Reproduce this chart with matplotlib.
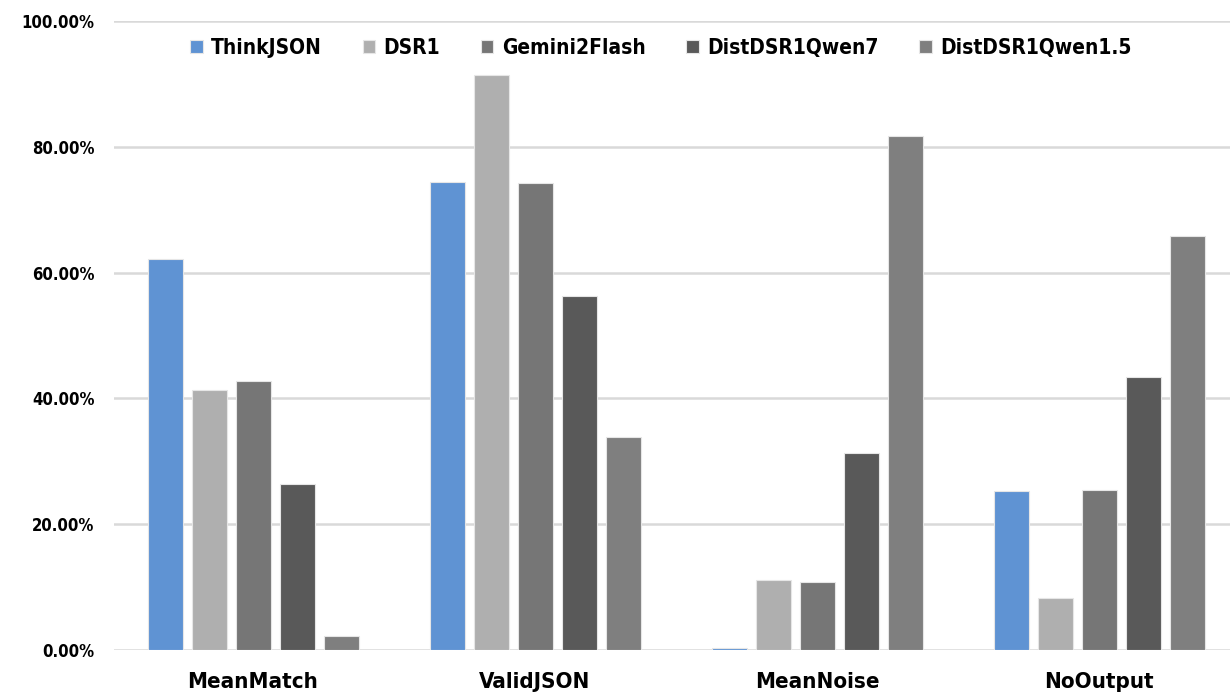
import numpy as np
from matplotlib import pyplot as plt
from matplotlib.ticker import PercentFormatter

plt.rcParams["font.family"] = ["DejaVu Sans"]
plt.rcParams["font.stretch"] = "condensed"
plt.rcParams["font.weight"] = "bold"

categories = ["MeanMatch", "ValidJSON", "MeanNoise", "NoOutput"]
models = ["ThinkJSON", "DSR1", "Gemini2Flash", "DistDSR1Qwen7", "DistDSR1Qwen1.5"]

think_json = [62.2, 74.4, 0.3, 25.3]
dsr1 = [41.3, 91.4, 11.1, 8.3]
gemini2_flash = [42.8, 74.2, 10.8, 25.4]
dist_qwen7 = [26.4, 56.3, 31.3, 43.4]
dist_qwen15 = [2.2, 33.9, 81.7, 65.8]

series = [think_json, dsr1, gemini2_flash, dist_qwen7, dist_qwen15]
colors = ["#5F93D3", "#AFAFAF", "#767676", "#595959", "#7F7F7F"]

fig = plt.figure(figsize=(12.3, 6.94), dpi=100)
ax = fig.add_axes([0.0927, 0.0634, 0.9073, 0.9063])

x = np.arange(len(categories))
pitch = 0.156
bar_width = 0.124

for i, (vals, name, col) in enumerate(zip(series, models, colors)):
    offset = (i - 2) * pitch
    ax.bar(x + offset, np.array(vals) / 100, width=bar_width, color=col,
           edgecolor="#E6E6E6", linewidth=0.8, label=name, zorder=3)

ax.set_ylim(0, 1.0)
ax.set_xlim(-0.493, 3.464)
ax.set_yticks(np.arange(0, 1.01, 0.2))
ax.yaxis.set_major_formatter(PercentFormatter(1.0, decimals=2))
ax.grid(axis="y", color="#D9D9D9", linewidth=1.8, zorder=0)

for s in ax.spines.values():
    s.set_visible(False)
ax.tick_params(axis="both", length=0)
ax.tick_params(axis="y", labelsize=12, pad=14)
ax.tick_params(axis="x", labelsize=16, pad=16)
ax.set_xticks(x)
ax.set_xticklabels(categories)

ax.legend(loc="center", bbox_to_anchor=(0.49, 0.957), ncol=5, frameon=False,
          fontsize=15, handlelength=0.6, handleheight=0.6, handletextpad=0.4,
          columnspacing=1.95)

fig.savefig("out.png", dpi=100)
